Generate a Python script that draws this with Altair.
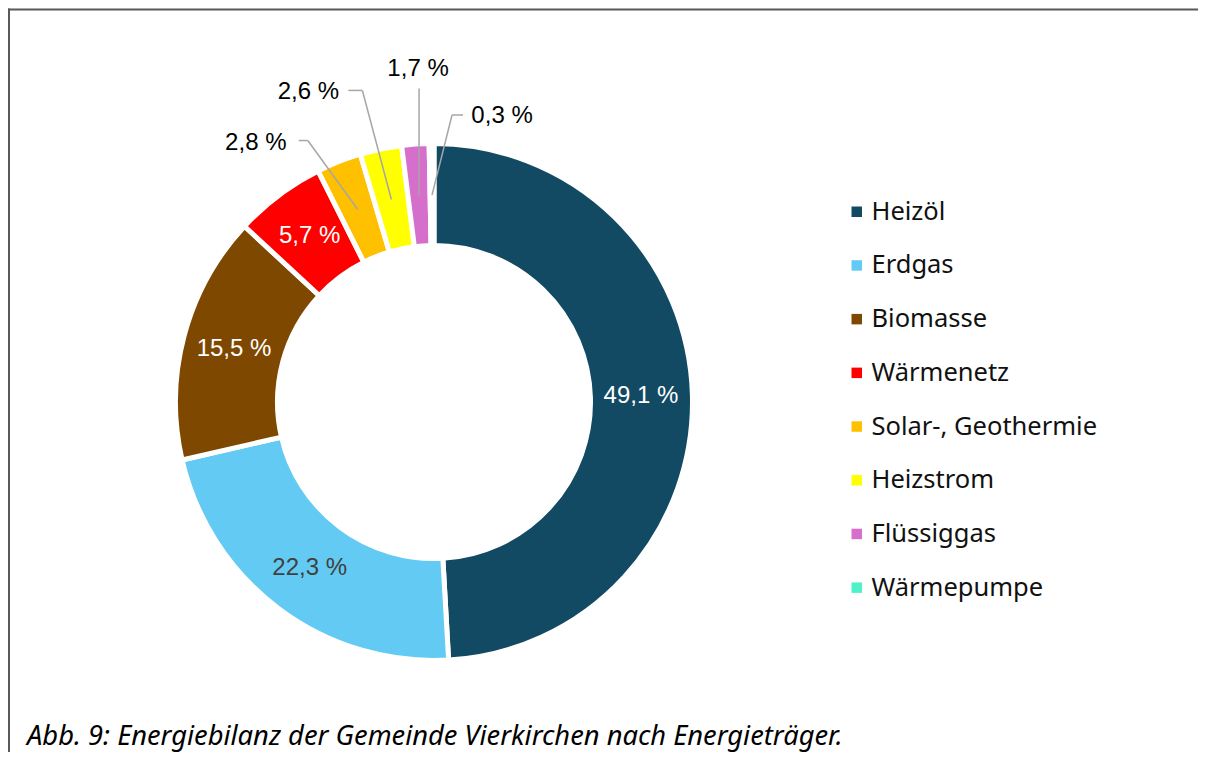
import altair as alt
import pandas as pd

# ---- data -------------------------------------------------------------
CATEGORIES = ["Heizöl", "Erdgas", "Biomasse", "Wärmenetz",
              "Solar-, Geothermie", "Heizstrom", "Flüssiggas", "Wärmepumpe"]
VALUES = [49.1, 22.3, 15.5, 5.7, 2.8, 2.6, 1.7, 0.3]
COLORS = ["#124A63", "#63CBF3", "#7F4800", "#FF0000",
          "#FFC000", "#FFFF00", "#D66FCB", "#4FF2C6"]
CAPTION = "Abb. 9: Energiebilanz der Gemeinde Vierkirchen nach Energieträger."

# ---- layout (hand-placed callouts, offsets from the slice centre point) --
W, H = 1190, 744
CX, CY = 426, 394
R_LABEL = 207
CALLOUTS = {
    "Solar-, Geothermie": dict(lx=-102, ly=-67, ex=-50, ey=-69, tx=-59),
    "Heizstrom": dict(lx=-83, ly=-107, ex=-29, ey=-109, tx=-43),
    "Flüssiggas": dict(lx=-1, ly=-127, ex=0, ey=-107, tx=0),
    "Wärmepumpe": dict(lx=70, ly=-79, ex=20, ey=-80, tx=31),
}

df = pd.DataFrame({"category": CATEGORIES, "value": VALUES,
                   "order": list(range(len(CATEGORIES)))})
df["label"] = [f"{v:.1f}".replace(".", ",") + " %" for v in VALUES]
for k in ["lx", "ly", "ex", "ey", "tx"]:
    df[k] = [CALLOUTS.get(c, {}).get(k, 0) for c in CATEGORIES]
df["callout"] = [1 if c in CALLOUTS else 0 for c in CATEGORIES]

base = alt.Chart(df)

arcs = base.mark_arc(innerRadius=156.5, outerRadius=258.5,
                     stroke="white", strokeWidth=5).encode(
    theta=alt.Theta("value:Q", stack=True),
    order=alt.Order("order:Q"),
    color=alt.Color("category:N",
                    scale=alt.Scale(domain=CATEGORIES, range=COLORS),
                    legend=alt.Legend(orient="none", legendX=836, legendY=191,
                                      title=None, symbolType="square",
                                      symbolSize=110, symbolStrokeWidth=0,
                                      labelFont="Noto Sans", labelFontSize=25.5,
                                      labelColor="#111111", labelLimit=400,
                                      rowPadding=26.7, labelOffset=2, padding=0)),
    x=alt.value(CX), y=alt.value(CY),
)

inner_text = base.transform_calculate(
    txt="datum.value >= 5 ? datum.label : ''"
).mark_text(radius=R_LABEL, fontSize=24, font="Liberation Sans").encode(
    theta=alt.Theta("value:Q", stack=True),
    order=alt.Order("order:Q"),
    text="txt:N",
    color=alt.condition("datum.category == 'Erdgas'", alt.value("#404040"),
                        alt.value("white")),
    x=alt.value(CX), y=alt.value(CY),
)

pos = base.transform_joinaggregate(total="sum(value)").transform_window(
    cum="sum(value)", sort=[alt.SortField("order", order="ascending")],
    frame=[None, 0]
).transform_calculate(
    mid="(datum.cum - datum.value / 2) / datum.total * 2 * PI",
    sx=f"{CX} + {R_LABEL} * sin(datum.mid)",
    sy=f"{CY} - {R_LABEL} * cos(datum.mid)",
).transform_calculate(
    exa="datum.sx + datum.ex", eya="datum.sy + datum.ey",
    txa="datum.sx + datum.tx",
    lxa="datum.sx + datum.lx", lya="datum.sy + datum.ly",
).transform_filter("datum.callout == 1")

xs = alt.Scale(domain=[0, W], range=[0, W])
ys = alt.Scale(domain=[0, H], range=[0, H])

seg1 = pos.mark_rule(color="#A6A6A6", strokeWidth=1.5).encode(
    x=alt.X("sx:Q", scale=xs, axis=None), y=alt.Y("sy:Q", scale=ys, axis=None),
    x2="exa:Q", y2="eya:Q")
seg2 = pos.mark_rule(color="#A6A6A6", strokeWidth=1.5).encode(
    x=alt.X("exa:Q", scale=xs, axis=None), y=alt.Y("eya:Q", scale=ys, axis=None),
    x2="txa:Q", y2="eya:Q")
out_text = pos.mark_text(fontSize=24, font="Liberation Sans", color="#000000").encode(
    x=alt.X("lxa:Q", scale=xs, axis=None), y=alt.Y("lya:Q", scale=ys, axis=None),
    text="label:N")

cap = alt.Chart(pd.DataFrame({"t": [CAPTION]})).mark_text(
    align="left", baseline="middle", fontStyle="italic", fontSize=27.3,
    font="Noto Sans", color="#000000").encode(
    text="t:N", x=alt.value(19), y=alt.value(729))

one = pd.DataFrame({"d": [0]})
frame_top = alt.Chart(one).mark_rule(color="#595959", strokeWidth=2).encode(
    x=alt.value(0), x2=alt.value(W), y=alt.value(1.5))
frame_left = alt.Chart(one).mark_rule(color="#595959", strokeWidth=2).encode(
    x=alt.value(1), y=alt.value(0.5), y2=alt.value(H))

chart = alt.layer(frame_top, frame_left, arcs, inner_text, seg1, seg2,
                  out_text, cap).properties(
    width=W, height=H, autosize="none", padding=0
).configure_view(stroke=None)

chart.save("out.html", embed_options={"renderer": "svg", "actions": False})
